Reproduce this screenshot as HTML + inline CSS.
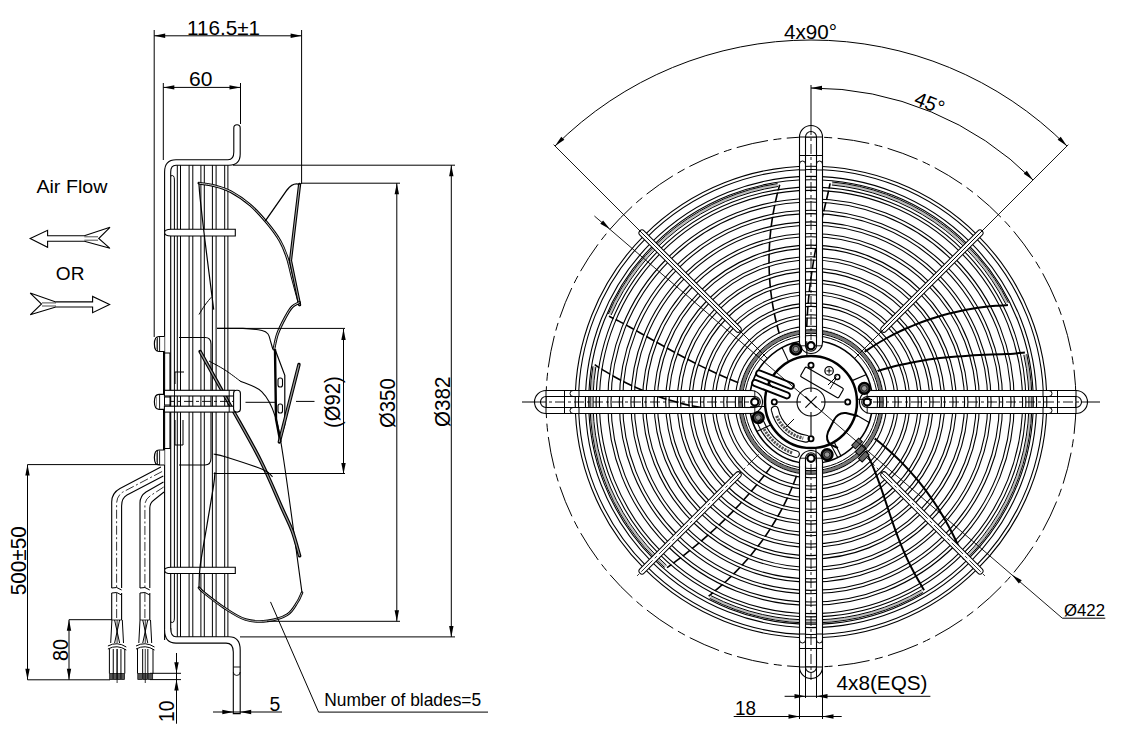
<!DOCTYPE html>
<html><head><meta charset="utf-8"><style>
html,body{margin:0;padding:0;background:#fff;}
svg{display:block;}
text{font-family:"Liberation Sans", sans-serif;fill:#000;}
</style></head><body>
<svg width="1124" height="733" viewBox="0 0 1124 733">
<rect width="1124" height="733" fill="#fff"/>
<circle cx="811" cy="402" r="265" fill="none" stroke="#000" stroke-width="1" stroke-dasharray="32 5.5 8 5.5"/>
<path d="M608.95,316.23 C610.61,317.05 615.63,319.45 618.93,321.15 C622.23,322.85 625.49,324.66 628.75,326.46 C632.01,328.25 635.26,330.1 638.51,331.93 C641.76,333.77 645,335.63 648.25,337.48 C651.5,339.33 654.75,341.19 658.01,343.03 C661.27,344.87 664.53,346.71 667.8,348.53 C671.07,350.35 674.35,352.16 677.65,353.94 C680.94,355.72 684.24,357.49 687.56,359.22 C690.88,360.96 694.2,362.67 697.55,364.35 C700.89,366.02 704.25,367.67 707.63,369.27 C711,370.88 714.39,372.45 717.8,373.98 C721.21,375.51 724.63,377 728.07,378.44 C731.51,379.88 734.96,381.28 738.43,382.63 C741.91,383.97 747.16,385.87 748.9,386.52" fill="none" stroke="#000" stroke-width="1.6"/>
<path d="M779.69,184.74 C779.19,186.7 777.58,192.55 776.66,196.46 C775.73,200.36 774.89,204.28 774.13,208.19 C773.37,212.1 772.7,216.02 772.11,219.93 C771.52,223.84 771.02,227.75 770.6,231.65 C770.18,235.56 769.84,239.46 769.59,243.35 C769.34,247.24 769.17,251.13 769.09,255 C769,258.87 769,262.74 769.08,266.59 C769.17,270.44 769.33,274.28 769.58,278.1 C769.82,281.92 770.15,285.73 770.56,289.51 C770.98,293.3 771.47,297.07 772.04,300.81 C772.61,304.56 773.27,308.28 774,311.98 C774.74,315.69 775.55,319.36 776.44,323.01 C777.34,326.66 778.31,330.29 779.36,333.88 C780.41,337.48 782.18,342.79 782.74,344.58" fill="none" stroke="#000" stroke-width="1.6"/>
<path d="M830.13,183.34 C829.74,185.16 828.61,190.64 827.79,194.28 C826.97,197.93 826.06,201.58 825.2,205.23 C824.35,208.88 823.48,212.53 822.63,216.19 C821.79,219.84 820.96,223.5 820.16,227.17 C819.36,230.83 818.57,234.5 817.82,238.18 C817.07,241.85 816.34,245.53 815.65,249.21 C814.96,252.9 814.3,256.58 813.68,260.28 C813.06,263.97 812.47,267.66 811.92,271.36 C811.37,275.06 810.85,278.76 810.38,282.47 C809.91,286.17 809.48,289.88 809.09,293.59 C808.7,297.3 808.35,301.01 808.05,304.72 C807.74,308.44 807.48,312.15 807.27,315.87 C807.06,319.58 806.88,323.3 806.76,327.01 C806.64,330.73 806.57,336.3 806.54,338.16" fill="none" stroke="#000" stroke-width="1.6"/>
<path d="M708.63,596.17 C710.18,594.88 714.92,591.09 717.97,588.47 C721.02,585.86 724,583.19 726.91,580.47 C729.82,577.75 732.67,574.98 735.44,572.16 C738.22,569.34 740.93,566.47 743.56,563.56 C746.19,560.65 748.76,557.69 751.25,554.69 C753.74,551.69 756.16,548.64 758.5,545.56 C760.85,542.48 763.12,539.35 765.32,536.19 C767.52,533.03 769.64,529.82 771.68,526.59 C773.73,523.35 775.7,520.08 777.59,516.77 C779.49,513.47 781.3,510.13 783.04,506.76 C784.78,503.39 786.44,499.99 788.02,496.57 C789.6,493.14 791.11,489.69 792.53,486.21 C793.95,482.73 795.3,479.23 796.56,475.71 C797.82,472.18 799.52,466.84 800.11,465.07" fill="none" stroke="#000" stroke-width="1.6"/>
<path d="M667,567.66 C668.54,566.54 673.2,563.23 676.25,560.97 C679.31,558.7 682.33,556.41 685.32,554.07 C688.31,551.74 691.27,549.38 694.2,546.98 C697.12,544.58 700.01,542.15 702.87,539.69 C705.73,537.23 708.56,534.73 711.35,532.21 C714.14,529.68 716.9,527.12 719.62,524.53 C722.34,521.95 725.03,519.33 727.68,516.68 C730.33,514.03 732.95,511.35 735.53,508.64 C738.12,505.93 740.66,503.19 743.17,500.43 C745.68,497.66 748.16,494.87 750.59,492.04 C753.03,489.22 755.43,486.37 757.79,483.49 C760.15,480.61 762.48,477.7 764.77,474.77 C767.06,471.84 769.31,468.88 771.52,465.89 C773.73,462.91 776.95,458.36 778.04,456.86" fill="none" stroke="#000" stroke-width="1.6"/>
<path d="M594.7,364.64 C596.4,365.72 601.47,369.06 604.9,371.15 C608.33,373.24 611.8,375.25 615.28,377.18 C618.77,379.11 622.28,380.96 625.82,382.72 C629.36,384.49 632.92,386.18 636.51,387.79 C640.09,389.39 643.7,390.92 647.32,392.36 C650.94,393.8 654.59,395.16 658.24,396.44 C661.9,397.71 665.58,398.91 669.26,400.02 C672.95,401.13 676.65,402.16 680.36,403.11 C684.07,404.05 687.79,404.92 691.52,405.7 C695.25,406.47 698.99,407.17 702.73,407.78 C706.47,408.4 710.21,408.92 713.96,409.37 C717.7,409.82 721.45,410.18 725.2,410.46 C728.95,410.73 732.7,410.93 736.44,411.04 C740.18,411.15 745.79,411.11 747.65,411.13" fill="none" stroke="#000" stroke-width="1.6"/>
<circle cx="811" cy="402" r="234.15" fill="none" stroke="#fff" stroke-width="2.2"/>
<circle cx="811" cy="402" r="235.8" fill="none" stroke="#000" stroke-width="1.1"/>
<circle cx="811" cy="402" r="232.5" fill="none" stroke="#000" stroke-width="1.1"/>
<circle cx="811" cy="402" r="223.95" fill="none" stroke="#fff" stroke-width="2.2"/>
<circle cx="811" cy="402" r="225.6" fill="none" stroke="#000" stroke-width="1.1"/>
<circle cx="811" cy="402" r="222.3" fill="none" stroke="#000" stroke-width="1.1"/>
<circle cx="811" cy="402" r="213.25" fill="none" stroke="#fff" stroke-width="2.2"/>
<circle cx="811" cy="402" r="214.9" fill="none" stroke="#000" stroke-width="1.1"/>
<circle cx="811" cy="402" r="211.6" fill="none" stroke="#000" stroke-width="1.1"/>
<circle cx="811" cy="402" r="201.65" fill="none" stroke="#fff" stroke-width="2.2"/>
<circle cx="811" cy="402" r="203.3" fill="none" stroke="#000" stroke-width="1.1"/>
<circle cx="811" cy="402" r="200" fill="none" stroke="#000" stroke-width="1.1"/>
<circle cx="811" cy="402" r="190.05" fill="none" stroke="#fff" stroke-width="2.2"/>
<circle cx="811" cy="402" r="191.7" fill="none" stroke="#000" stroke-width="1.1"/>
<circle cx="811" cy="402" r="188.4" fill="none" stroke="#000" stroke-width="1.1"/>
<circle cx="811" cy="402" r="178.45" fill="none" stroke="#fff" stroke-width="2.2"/>
<circle cx="811" cy="402" r="180.1" fill="none" stroke="#000" stroke-width="1.1"/>
<circle cx="811" cy="402" r="176.8" fill="none" stroke="#000" stroke-width="1.1"/>
<circle cx="811" cy="402" r="166.85" fill="none" stroke="#fff" stroke-width="2.2"/>
<circle cx="811" cy="402" r="168.5" fill="none" stroke="#000" stroke-width="1.1"/>
<circle cx="811" cy="402" r="165.2" fill="none" stroke="#000" stroke-width="1.1"/>
<circle cx="811" cy="402" r="155.25" fill="none" stroke="#fff" stroke-width="2.2"/>
<circle cx="811" cy="402" r="156.9" fill="none" stroke="#000" stroke-width="1.1"/>
<circle cx="811" cy="402" r="153.6" fill="none" stroke="#000" stroke-width="1.1"/>
<circle cx="811" cy="402" r="143.65" fill="none" stroke="#fff" stroke-width="2.2"/>
<circle cx="811" cy="402" r="145.3" fill="none" stroke="#000" stroke-width="1.1"/>
<circle cx="811" cy="402" r="142" fill="none" stroke="#000" stroke-width="1.1"/>
<circle cx="811" cy="402" r="132.05" fill="none" stroke="#fff" stroke-width="2.2"/>
<circle cx="811" cy="402" r="133.7" fill="none" stroke="#000" stroke-width="1.1"/>
<circle cx="811" cy="402" r="130.4" fill="none" stroke="#000" stroke-width="1.1"/>
<circle cx="811" cy="402" r="120.45" fill="none" stroke="#fff" stroke-width="2.2"/>
<circle cx="811" cy="402" r="122.1" fill="none" stroke="#000" stroke-width="1.1"/>
<circle cx="811" cy="402" r="118.8" fill="none" stroke="#000" stroke-width="1.1"/>
<circle cx="811" cy="402" r="108.85" fill="none" stroke="#fff" stroke-width="2.2"/>
<circle cx="811" cy="402" r="110.5" fill="none" stroke="#000" stroke-width="1.1"/>
<circle cx="811" cy="402" r="107.2" fill="none" stroke="#000" stroke-width="1.1"/>
<circle cx="811" cy="402" r="97.25" fill="none" stroke="#fff" stroke-width="2.2"/>
<circle cx="811" cy="402" r="98.9" fill="none" stroke="#000" stroke-width="1.1"/>
<circle cx="811" cy="402" r="95.6" fill="none" stroke="#000" stroke-width="1.1"/>
<circle cx="811" cy="402" r="85.65" fill="none" stroke="#fff" stroke-width="2.2"/>
<circle cx="811" cy="402" r="87.3" fill="none" stroke="#000" stroke-width="1.1"/>
<circle cx="811" cy="402" r="84" fill="none" stroke="#000" stroke-width="1.1"/>
<circle cx="811" cy="402" r="74.05" fill="none" stroke="#fff" stroke-width="2.2"/>
<circle cx="811" cy="402" r="75.7" fill="none" stroke="#000" stroke-width="1.1"/>
<circle cx="811" cy="402" r="72.4" fill="none" stroke="#000" stroke-width="1.1"/>
<path d="M1007.95,305.09 C1005.94,305.21 999.87,305.5 995.87,305.82 C991.87,306.15 987.88,306.55 983.93,307.04 C979.98,307.53 976.04,308.1 972.14,308.75 C968.24,309.4 964.37,310.13 960.52,310.94 C956.68,311.74 952.87,312.63 949.09,313.59 C945.31,314.55 941.56,315.6 937.85,316.71 C934.14,317.83 930.47,319.02 926.83,320.29 C923.19,321.56 919.59,322.9 916.04,324.32 C912.48,325.73 908.96,327.22 905.49,328.78 C902.01,330.34 898.58,331.98 895.2,333.68 C891.81,335.38 888.47,337.16 885.18,339 C881.88,340.84 878.64,342.75 875.44,344.73 C872.25,346.7 869.1,348.75 866.01,350.86 C862.91,352.97 858.4,356.29 856.88,357.38" fill="none" stroke="#000" stroke-width="2"/>
<path d="M1024.87,352.62 C1023.01,352.79 1017.45,353.38 1013.7,353.63 C1009.96,353.89 1006.17,353.99 1002.4,354.15 C998.62,354.31 994.83,354.43 991.04,354.58 C987.25,354.74 983.45,354.88 979.66,355.07 C975.87,355.25 972.08,355.44 968.29,355.68 C964.5,355.92 960.71,356.18 956.93,356.49 C953.14,356.8 949.37,357.14 945.6,357.54 C941.83,357.93 938.07,358.37 934.32,358.86 C930.57,359.35 926.82,359.89 923.1,360.49 C919.37,361.09 915.65,361.74 911.96,362.45 C908.26,363.16 904.58,363.92 900.91,364.75 C897.25,365.58 893.6,366.47 889.98,367.43 C886.36,368.39 882.75,369.4 879.18,370.49 C875.6,371.57 870.3,373.37 868.52,373.94" fill="none" stroke="#000" stroke-width="2"/>
<path d="M964.03,559.36 C963.26,557.52 961.02,551.93 959.42,548.29 C957.81,544.64 956.14,541.04 954.41,537.48 C952.68,533.93 950.88,530.42 949.02,526.96 C947.15,523.5 945.23,520.09 943.24,516.73 C941.26,513.37 939.21,510.05 937.1,506.8 C935,503.54 932.83,500.34 930.6,497.19 C928.38,494.04 926.1,490.94 923.76,487.9 C921.42,484.86 919.03,481.87 916.58,478.95 C914.13,476.02 911.63,473.15 909.07,470.34 C906.52,467.53 903.91,464.78 901.25,462.09 C898.6,459.4 895.89,456.77 893.13,454.21 C890.38,451.64 887.57,449.14 884.72,446.7 C881.87,444.26 878.98,441.88 876.04,439.57 C873.1,437.26 868.58,433.96 867.08,432.83" fill="none" stroke="#000" stroke-width="2"/>
<path d="M924.05,590.15 C923.11,588.55 920.25,583.8 918.42,580.58 C916.58,577.36 914.79,574.12 913.06,570.83 C911.34,567.55 909.67,564.23 908.07,560.87 C906.47,557.51 904.93,554.11 903.44,550.67 C901.96,547.24 900.54,543.76 899.16,540.25 C897.78,536.74 896.46,533.19 895.16,529.61 C893.86,526.03 892.61,522.41 891.36,518.77 C890.11,515.13 888.9,511.46 887.67,507.78 C886.44,504.09 885.23,500.38 883.98,496.67 C882.72,492.96 881.47,489.23 880.15,485.52 C878.83,481.8 877.49,478.08 876.05,474.39 C874.62,470.7 873.14,467.01 871.54,463.38 C869.94,459.76 868.28,456.15 866.48,452.63 C864.68,449.11 861.69,444 860.74,442.28" fill="none" stroke="#000" stroke-width="2"/>
<path d="M609.71,314.47 A219.5,219.5 0 0 1 777.8,185.03" fill="none" stroke="#bbb" stroke-width="2"/>
<path d="M608.33,313.88 A221,221 0 0 1 777.57,183.54" fill="none" stroke="#000" stroke-width="1"/>
<path d="M611.08,315.07 A218,218 0 0 1 778.03,186.51" fill="none" stroke="#000" stroke-width="1"/>
<path d="M832.04,183.51 A219.5,219.5 0 0 1 1007.1,303.37" fill="none" stroke="#bbb" stroke-width="2"/>
<path d="M832.18,182.02 A221,221 0 0 1 1008.44,302.7" fill="none" stroke="#000" stroke-width="1"/>
<path d="M831.89,185 A218,218 0 0 1 1005.75,304.05" fill="none" stroke="#000" stroke-width="1"/>
<path d="M1025.3,354.49 A219.5,219.5 0 0 1 965.4,558.02" fill="none" stroke="#bbb" stroke-width="2"/>
<path d="M1026.76,354.17 A221,221 0 0 1 966.45,559.09" fill="none" stroke="#000" stroke-width="1"/>
<path d="M1023.83,354.82 A218,218 0 0 1 964.34,556.95" fill="none" stroke="#000" stroke-width="1"/>
<path d="M922.4,591.13 A219.5,219.5 0 0 1 710.33,597.05" fill="none" stroke="#bbb" stroke-width="2"/>
<path d="M923.17,592.42 A221,221 0 0 1 709.64,598.38" fill="none" stroke="#000" stroke-width="1"/>
<path d="M921.64,589.84 A218,218 0 0 1 711.01,595.72" fill="none" stroke="#000" stroke-width="1"/>
<path d="M665.55,566.4 A219.5,219.5 0 0 1 594.39,366.53" fill="none" stroke="#bbb" stroke-width="2"/>
<path d="M664.56,567.52 A221,221 0 0 1 592.9,366.29" fill="none" stroke="#000" stroke-width="1"/>
<path d="M666.55,565.27 A218,218 0 0 1 595.87,366.77" fill="none" stroke="#000" stroke-width="1"/>
<line x1="883.83" y1="474.83" x2="980" y2="571" stroke="#000" stroke-width="7" stroke-linecap="round"/>
<line x1="883.83" y1="474.83" x2="980" y2="571" stroke="#fff" stroke-width="5" stroke-linecap="round"/>
<line x1="863.33" y1="454.33" x2="985.66" y2="576.66" stroke="#000" stroke-width="0.8" stroke-dasharray="16 3 3 3"/>
<line x1="738.17" y1="474.83" x2="642" y2="571" stroke="#000" stroke-width="7" stroke-linecap="round"/>
<line x1="738.17" y1="474.83" x2="642" y2="571" stroke="#fff" stroke-width="5" stroke-linecap="round"/>
<line x1="758.67" y1="454.33" x2="636.34" y2="576.66" stroke="#000" stroke-width="0.8" stroke-dasharray="16 3 3 3"/>
<line x1="738.17" y1="329.17" x2="642" y2="233" stroke="#000" stroke-width="7" stroke-linecap="round"/>
<line x1="738.17" y1="329.17" x2="642" y2="233" stroke="#fff" stroke-width="5" stroke-linecap="round"/>
<line x1="742.41" y1="333.41" x2="636.34" y2="227.34" stroke="#000" stroke-width="0.8" stroke-dasharray="16 3 3 3"/>
<line x1="883.83" y1="329.17" x2="980" y2="233" stroke="#000" stroke-width="7" stroke-linecap="round"/>
<line x1="883.83" y1="329.17" x2="980" y2="233" stroke="#fff" stroke-width="5" stroke-linecap="round"/>
<line x1="879.59" y1="333.41" x2="985.66" y2="227.34" stroke="#000" stroke-width="0.8" stroke-dasharray="16 3 3 3"/>
<circle cx="811" cy="402" r="73.5" fill="#fff" stroke="none" stroke-width="1"/>
<circle cx="811" cy="402" r="70.5" fill="none" stroke="#777" stroke-width="3"/>
<circle cx="811" cy="402" r="72.3" fill="none" stroke="#000" stroke-width="1"/>
<circle cx="811" cy="402" r="68.7" fill="none" stroke="#000" stroke-width="1"/>
<circle cx="811" cy="402" r="66.5" fill="none" stroke="#000" stroke-width="1"/>
<circle cx="811" cy="402" r="61.5" fill="none" stroke="#000" stroke-width="1.6"/>
<polygon points="867,407.5 1076,407.5 1076,413.5 867,413.5" fill="#fff" stroke="none" stroke-width="0"/>
<polygon points="867,390.5 1076,390.5 1076,396.5 867,396.5" fill="#fff" stroke="none" stroke-width="0"/>
<line x1="871" y1="413.5" x2="1076" y2="413.5" stroke="#000" stroke-width="1.1"/>
<line x1="871" y1="390.5" x2="1076" y2="390.5" stroke="#000" stroke-width="1.1"/>
<line x1="867.2" y1="407.5" x2="1076" y2="407.5" stroke="#000" stroke-width="1.1"/>
<line x1="867.2" y1="396.5" x2="1076" y2="396.5" stroke="#000" stroke-width="1.1"/>
<path d="M1076,390.5 A11.5,11.5 0 0 1 1076,413.5" fill="#fff" stroke="#000" stroke-width="1.1"/>
<path d="M1076,396.5 A5.5,5.5 0 0 1 1076,407.5" fill="none" stroke="#000" stroke-width="1.1"/>
<line x1="1057.5" y1="390.5" x2="1057.5" y2="413.5" stroke="#000" stroke-width="1"/>
<line x1="1076" y1="390.5" x2="1076" y2="413.5" stroke="#000" stroke-width="1"/>
<line x1="1043" y1="407.5" x2="1043" y2="413.5" stroke="#000" stroke-width="1"/>
<line x1="1043" y1="390.5" x2="1043" y2="396.5" stroke="#000" stroke-width="1"/>
<path d="M1049,407.5 A3,3 0 0 1 1049,413.5" fill="none" stroke="#000" stroke-width="1"/>
<path d="M1049,390.5 A3,3 0 0 1 1049,396.5" fill="none" stroke="#000" stroke-width="1"/>
<path d="M875,390.5 L871,390.5 A11.5,11.5 0 0 0 871,413.5 L875,413.5 Z" fill="#fff" stroke="none"/>
<path d="M871,390.5 A11.5,11.5 0 0 0 871,413.5" fill="none" stroke="#000" stroke-width="1.1"/>
<line x1="871" y1="413.5" x2="877" y2="413.5" stroke="#000" stroke-width="1.1"/>
<line x1="871" y1="390.5" x2="877" y2="390.5" stroke="#000" stroke-width="1.1"/>
<path d="M867.2,396.5 A5.5,5.5 0 0 0 867.2,407.5" fill="none" stroke="#000" stroke-width="1.1"/>
<line x1="867.2" y1="407.5" x2="877" y2="407.5" stroke="#000" stroke-width="1.1"/>
<line x1="867.2" y1="396.5" x2="877" y2="396.5" stroke="#000" stroke-width="1.1"/>
<line x1="867.2" y1="390.5" x2="867.2" y2="413.5" stroke="#000" stroke-width="0.9"/>
<circle cx="867.2" cy="402" r="3.6" fill="#fff" stroke="#000" stroke-width="2.2"/>
<polygon points="805.5,458 805.5,667 799.5,667 799.5,458" fill="#fff" stroke="none" stroke-width="0"/>
<polygon points="822.5,458 822.5,667 816.5,667 816.5,458" fill="#fff" stroke="none" stroke-width="0"/>
<line x1="799.5" y1="462" x2="799.5" y2="667" stroke="#000" stroke-width="1.1"/>
<line x1="822.5" y1="462" x2="822.5" y2="667" stroke="#000" stroke-width="1.1"/>
<line x1="805.5" y1="458.2" x2="805.5" y2="667" stroke="#000" stroke-width="1.1"/>
<line x1="816.5" y1="458.2" x2="816.5" y2="667" stroke="#000" stroke-width="1.1"/>
<path d="M822.5,667 A11.5,11.5 0 0 1 799.5,667" fill="#fff" stroke="#000" stroke-width="1.1"/>
<path d="M816.5,667 A5.5,5.5 0 0 1 805.5,667" fill="none" stroke="#000" stroke-width="1.1"/>
<line x1="822.5" y1="648.5" x2="799.5" y2="648.5" stroke="#000" stroke-width="1"/>
<line x1="822.5" y1="667" x2="799.5" y2="667" stroke="#000" stroke-width="1"/>
<line x1="805.5" y1="634" x2="799.5" y2="634" stroke="#000" stroke-width="1"/>
<line x1="822.5" y1="634" x2="816.5" y2="634" stroke="#000" stroke-width="1"/>
<path d="M805.5,640 A3,3 0 0 1 799.5,640" fill="none" stroke="#000" stroke-width="1"/>
<path d="M822.5,640 A3,3 0 0 1 816.5,640" fill="none" stroke="#000" stroke-width="1"/>
<path d="M822.5,466 L822.5,462 A11.5,11.5 0 0 0 799.5,462 L799.5,466 Z" fill="#fff" stroke="none"/>
<path d="M822.5,462 A11.5,11.5 0 0 0 799.5,462" fill="none" stroke="#000" stroke-width="1.1"/>
<line x1="799.5" y1="462" x2="799.5" y2="468" stroke="#000" stroke-width="1.1"/>
<line x1="822.5" y1="462" x2="822.5" y2="468" stroke="#000" stroke-width="1.1"/>
<path d="M816.5,458.2 A5.5,5.5 0 0 0 805.5,458.2" fill="none" stroke="#000" stroke-width="1.1"/>
<line x1="805.5" y1="458.2" x2="805.5" y2="468" stroke="#000" stroke-width="1.1"/>
<line x1="816.5" y1="458.2" x2="816.5" y2="468" stroke="#000" stroke-width="1.1"/>
<line x1="822.5" y1="458.2" x2="799.5" y2="458.2" stroke="#000" stroke-width="0.9"/>
<circle cx="811" cy="458.2" r="3.6" fill="#fff" stroke="#000" stroke-width="2.2"/>
<polygon points="755,396.5 546,396.5 546,390.5 755,390.5" fill="#fff" stroke="none" stroke-width="0"/>
<polygon points="755,413.5 546,413.5 546,407.5 755,407.5" fill="#fff" stroke="none" stroke-width="0"/>
<line x1="751" y1="390.5" x2="546" y2="390.5" stroke="#000" stroke-width="1.1"/>
<line x1="751" y1="413.5" x2="546" y2="413.5" stroke="#000" stroke-width="1.1"/>
<line x1="754.8" y1="396.5" x2="546" y2="396.5" stroke="#000" stroke-width="1.1"/>
<line x1="754.8" y1="407.5" x2="546" y2="407.5" stroke="#000" stroke-width="1.1"/>
<path d="M546,413.5 A11.5,11.5 0 0 1 546,390.5" fill="#fff" stroke="#000" stroke-width="1.1"/>
<path d="M546,407.5 A5.5,5.5 0 0 1 546,396.5" fill="none" stroke="#000" stroke-width="1.1"/>
<line x1="564.5" y1="413.5" x2="564.5" y2="390.5" stroke="#000" stroke-width="1"/>
<line x1="546" y1="413.5" x2="546" y2="390.5" stroke="#000" stroke-width="1"/>
<line x1="579" y1="396.5" x2="579" y2="390.5" stroke="#000" stroke-width="1"/>
<line x1="579" y1="413.5" x2="579" y2="407.5" stroke="#000" stroke-width="1"/>
<path d="M573,396.5 A3,3 0 0 1 573,390.5" fill="none" stroke="#000" stroke-width="1"/>
<path d="M573,413.5 A3,3 0 0 1 573,407.5" fill="none" stroke="#000" stroke-width="1"/>
<path d="M747,413.5 L751,413.5 A11.5,11.5 0 0 0 751,390.5 L747,390.5 Z" fill="#fff" stroke="none"/>
<path d="M751,413.5 A11.5,11.5 0 0 0 751,390.5" fill="none" stroke="#000" stroke-width="1.1"/>
<line x1="751" y1="390.5" x2="745" y2="390.5" stroke="#000" stroke-width="1.1"/>
<line x1="751" y1="413.5" x2="745" y2="413.5" stroke="#000" stroke-width="1.1"/>
<path d="M754.8,407.5 A5.5,5.5 0 0 0 754.8,396.5" fill="none" stroke="#000" stroke-width="1.1"/>
<line x1="754.8" y1="396.5" x2="745" y2="396.5" stroke="#000" stroke-width="1.1"/>
<line x1="754.8" y1="407.5" x2="745" y2="407.5" stroke="#000" stroke-width="1.1"/>
<line x1="754.8" y1="413.5" x2="754.8" y2="390.5" stroke="#000" stroke-width="0.9"/>
<circle cx="754.8" cy="402" r="3.6" fill="#fff" stroke="#000" stroke-width="2.2"/>
<polygon points="816.5,346 816.5,137 822.5,137 822.5,346" fill="#fff" stroke="none" stroke-width="0"/>
<polygon points="799.5,346 799.5,137 805.5,137 805.5,346" fill="#fff" stroke="none" stroke-width="0"/>
<line x1="822.5" y1="342" x2="822.5" y2="137" stroke="#000" stroke-width="1.1"/>
<line x1="799.5" y1="342" x2="799.5" y2="137" stroke="#000" stroke-width="1.1"/>
<line x1="816.5" y1="345.8" x2="816.5" y2="137" stroke="#000" stroke-width="1.1"/>
<line x1="805.5" y1="345.8" x2="805.5" y2="137" stroke="#000" stroke-width="1.1"/>
<path d="M799.5,137 A11.5,11.5 0 0 1 822.5,137" fill="#fff" stroke="#000" stroke-width="1.1"/>
<path d="M805.5,137 A5.5,5.5 0 0 1 816.5,137" fill="none" stroke="#000" stroke-width="1.1"/>
<line x1="799.5" y1="155.5" x2="822.5" y2="155.5" stroke="#000" stroke-width="1"/>
<line x1="799.5" y1="137" x2="822.5" y2="137" stroke="#000" stroke-width="1"/>
<line x1="816.5" y1="170" x2="822.5" y2="170" stroke="#000" stroke-width="1"/>
<line x1="799.5" y1="170" x2="805.5" y2="170" stroke="#000" stroke-width="1"/>
<path d="M816.5,164 A3,3 0 0 1 822.5,164" fill="none" stroke="#000" stroke-width="1"/>
<path d="M799.5,164 A3,3 0 0 1 805.5,164" fill="none" stroke="#000" stroke-width="1"/>
<path d="M799.5,338 L799.5,342 A11.5,11.5 0 0 0 822.5,342 L822.5,338 Z" fill="#fff" stroke="none"/>
<path d="M799.5,342 A11.5,11.5 0 0 0 822.5,342" fill="none" stroke="#000" stroke-width="1.1"/>
<line x1="822.5" y1="342" x2="822.5" y2="336" stroke="#000" stroke-width="1.1"/>
<line x1="799.5" y1="342" x2="799.5" y2="336" stroke="#000" stroke-width="1.1"/>
<path d="M805.5,345.8 A5.5,5.5 0 0 0 816.5,345.8" fill="none" stroke="#000" stroke-width="1.1"/>
<line x1="816.5" y1="345.8" x2="816.5" y2="336" stroke="#000" stroke-width="1.1"/>
<line x1="805.5" y1="345.8" x2="805.5" y2="336" stroke="#000" stroke-width="1.1"/>
<line x1="799.5" y1="345.8" x2="822.5" y2="345.8" stroke="#000" stroke-width="0.9"/>
<circle cx="811" cy="345.8" r="3.6" fill="#fff" stroke="#000" stroke-width="2.2"/>
<circle cx="811" cy="402" r="46" fill="#fff" stroke="#000" stroke-width="2.5"/>
<circle cx="811" cy="402" r="14" fill="none" stroke="#000" stroke-width="1.1"/>
<circle cx="847.7" cy="402" r="2.6" fill="#fff" stroke="#000" stroke-width="1.8"/>
<line x1="821" y1="402" x2="844.5" y2="402" stroke="#000" stroke-width="1.1"/>
<circle cx="811" cy="438.7" r="2.6" fill="#fff" stroke="#000" stroke-width="1.8"/>
<line x1="811" y1="412" x2="811" y2="435.5" stroke="#000" stroke-width="1.1"/>
<circle cx="774.3" cy="402" r="2.6" fill="#fff" stroke="#000" stroke-width="1.8"/>
<line x1="801" y1="402" x2="777.5" y2="402" stroke="#000" stroke-width="1.1"/>
<circle cx="811" cy="365.3" r="2.6" fill="#fff" stroke="#000" stroke-width="1.8"/>
<line x1="811" y1="392" x2="811" y2="368.5" stroke="#000" stroke-width="1.1"/>
<circle cx="795.84" cy="349.13" r="5.4" fill="#555" stroke="#000" stroke-width="2.4"/>
<circle cx="795.84" cy="349.13" r="2.8" fill="#999" stroke="#222" stroke-width="1"/>
<line x1="788.21" y1="360.89" x2="781.89" y2="347.26" stroke="#000" stroke-width="1.1"/>
<line x1="806.9" y1="355.18" x2="806.74" y2="341.15" stroke="#000" stroke-width="1.1"/>
<circle cx="864.27" cy="388.32" r="5.4" fill="#555" stroke="#000" stroke-width="2.4"/>
<circle cx="864.27" cy="388.32" r="2.8" fill="#999" stroke="#222" stroke-width="1"/>
<line x1="852.73" y1="380.37" x2="866.53" y2="374.43" stroke="#000" stroke-width="1.1"/>
<line x1="857.92" y1="399.21" x2="871.95" y2="399.45" stroke="#000" stroke-width="1.1"/>
<circle cx="758.26" cy="417.62" r="5.4" fill="#555" stroke="#000" stroke-width="2.4"/>
<circle cx="758.26" cy="417.62" r="2.8" fill="#999" stroke="#222" stroke-width="1"/>
<line x1="770.09" y1="425.14" x2="756.51" y2="431.58" stroke="#000" stroke-width="1.1"/>
<line x1="764.22" y1="406.5" x2="750.19" y2="406.79" stroke="#000" stroke-width="1.1"/>
<circle cx="827.08" cy="454.6" r="5.4" fill="#555" stroke="#000" stroke-width="2.4"/>
<circle cx="827.08" cy="454.6" r="2.8" fill="#999" stroke="#222" stroke-width="1"/>
<line x1="834.5" y1="442.7" x2="841.06" y2="456.23" stroke="#000" stroke-width="1.1"/>
<line x1="815.91" y1="448.74" x2="816.32" y2="462.77" stroke="#000" stroke-width="1.1"/>
<rect x="-22" y="-5.5" width="44" height="11" rx="1.5" fill="none" stroke="#000" stroke-width="1.2" transform="translate(822 382.5) rotate(30)"/>
<circle cx="829.1" cy="370.9" r="4.2" fill="none" stroke="#000" stroke-width="1.3"/>
<line x1="826.5" y1="370.9" x2="831.7" y2="370.9" stroke="#000" stroke-width="1"/>
<line x1="829.1" y1="368.3" x2="829.1" y2="373.5" stroke="#000" stroke-width="1"/>
<circle cx="837.3" cy="377" r="2.5" fill="none" stroke="#000" stroke-width="1.4"/>
<line x1="836" y1="379" x2="830" y2="389" stroke="#000" stroke-width="0.9"/>
<path d="M858,416 L846,413 Q838,412 834,420 L828,432 Q825,440 831,445 L838,448" fill="none" stroke="#000" stroke-width="2"/>
<line x1="858" y1="416" x2="870" y2="423" stroke="#000" stroke-width="1.1"/>
<line x1="831" y1="445" x2="838" y2="458" stroke="#000" stroke-width="1.1"/>
<rect x="-20" y="-3" width="40" height="6" rx="3" fill="#fff" stroke="#000" stroke-width="1.9" transform="translate(775 379.6) rotate(21.5)"/>
<rect x="-20" y="-3" width="40" height="6" rx="3" fill="#fff" stroke="#000" stroke-width="1.9" transform="translate(771 389.2) rotate(21.5)"/>
<line x1="767" y1="380" x2="773" y2="388" stroke="#000" stroke-width="1"/>
<path d="M771.39,410.42 A40.5,40.5 0 0 0 805.36,442.11 A3.5,3.5 0 0 0 806.34,435.17 A33.5,33.5 0 0 1 778.23,408.97 A3.5,3.5 0 0 0 771.39,410.42 Z" fill="none" stroke="#000" stroke-width="1.1"/>
<path d="M776.69,415.86 A37,37 0 0 0 803.31,438.19" fill="none" stroke="#555" stroke-width="3.2" stroke-dasharray="2.2 1"/>
<path d="M758.07,424.47 A57.5,57.5 0 0 0 795.15,457.27 A3.25,3.25 0 0 0 796.94,451.02 A51,51 0 0 1 764.05,421.93 A3.25,3.25 0 0 0 758.07,424.47 Z" fill="none" stroke="#000" stroke-width="1.1"/>
<path d="M764.06,429.1 A54.2,54.2 0 0 0 792.46,452.93" fill="none" stroke="#555" stroke-width="3" stroke-dasharray="2.2 1"/>
<rect x="-5" y="-2.6" width="10" height="5.2" fill="#666" stroke="#000" stroke-width="1" transform="translate(857.07 443.49) rotate(-46)"/>
<rect x="-5" y="-2.6" width="10" height="5.2" fill="#666" stroke="#000" stroke-width="1" transform="translate(860.63 449.93) rotate(-46)"/>
<rect x="-5" y="-2.6" width="10" height="5.2" fill="#666" stroke="#000" stroke-width="1" transform="translate(863.79 456.67) rotate(-46)"/>
<line x1="805.34" y1="396.34" x2="816.66" y2="407.66" stroke="#000" stroke-width="1.1"/>
<line x1="805.34" y1="407.66" x2="816.66" y2="396.34" stroke="#000" stroke-width="1.1"/>
<line x1="827.97" y1="385.03" x2="836.46" y2="376.54" stroke="#000" stroke-width="1"/>
<line x1="794.03" y1="418.97" x2="785.54" y2="427.46" stroke="#000" stroke-width="1"/>
<line x1="522" y1="402" x2="536" y2="402" stroke="#000" stroke-width="1"/>
<line x1="1086" y1="402" x2="1100" y2="402" stroke="#000" stroke-width="1"/>
<line x1="536" y1="402" x2="749" y2="402" stroke="#000" stroke-width="0.9" stroke-dasharray="10 3 3 3"/>
<line x1="873" y1="402" x2="1086" y2="402" stroke="#000" stroke-width="0.9" stroke-dasharray="10 3 3 3"/>
<line x1="811" y1="85" x2="811" y2="125" stroke="#000" stroke-width="1"/>
<line x1="811" y1="125" x2="811" y2="340" stroke="#000" stroke-width="0.9" stroke-dasharray="10 3 3 3"/>
<line x1="811" y1="464" x2="811" y2="680" stroke="#000" stroke-width="0.9" stroke-dasharray="10 3 3 3"/>
<line x1="767.16" y1="358.16" x2="553.61" y2="144.61" stroke="#000" stroke-width="0.9"/>
<line x1="854.84" y1="358.16" x2="1068.39" y2="144.61" stroke="#000" stroke-width="0.9"/>
<line x1="594.4" y1="216" x2="1062.3" y2="618.2" stroke="#000" stroke-width="0.9"/>
<line x1="1062.3" y1="618.2" x2="1105.3" y2="618.2" stroke="#000" stroke-width="1"/>
<polygon points="610.04,229.26 600.26,223.76 603.13,220.42" fill="#000"/>
<polygon points="1011.96,574.74 1021.74,580.24 1018.87,583.58" fill="#000"/>
<path d="M555.03,146.03 A362,362 0 0 1 1066.97,146.03" fill="none" stroke="#000" stroke-width="1"/>
<polygon points="555.03,146.03 561.25,136.69 564.36,139.8" fill="#000"/>
<polygon points="1066.97,146.03 1057.64,139.8 1060.75,136.69" fill="#000"/>
<path d="M811,88 A314,314 0 0 1 1033.03,179.97" fill="none" stroke="#000" stroke-width="1"/>
<polygon points="811,88 822,85.8 822,90.2" fill="#000"/>
<polygon points="1033.03,179.97 1023.7,173.75 1026.81,170.63" fill="#000"/>
<text x="784" y="39" font-size="21" text-anchor="start" textLength="53" lengthAdjust="spacingAndGlyphs">4x90°</text>
<text x="913" y="104" font-size="20" text-anchor="start" transform="rotate(21.6 913 104)">45°</text>
<text x="1064" y="615.5" font-size="17" text-anchor="start" textLength="41" lengthAdjust="spacingAndGlyphs">Ø422</text>
<line x1="799.5" y1="667" x2="799.5" y2="719" stroke="#000" stroke-width="1"/>
<line x1="822.5" y1="667" x2="822.5" y2="719" stroke="#000" stroke-width="1"/>
<line x1="805.5" y1="667" x2="805.5" y2="698" stroke="#000" stroke-width="1"/>
<line x1="816.5" y1="667" x2="816.5" y2="698" stroke="#000" stroke-width="1"/>
<line x1="784.6" y1="696.3" x2="930.4" y2="696.3" stroke="#000" stroke-width="1"/>
<polygon points="805.5,696.3 794.5,698.5 794.5,694.1" fill="#000"/>
<polygon points="816.5,696.3 827.5,694.1 827.5,698.5" fill="#000"/>
<line x1="733.7" y1="716.5" x2="841.7" y2="716.5" stroke="#000" stroke-width="1"/>
<polygon points="799.5,716.5 788.5,718.7 788.5,714.3" fill="#000"/>
<polygon points="822.5,716.5 833.5,714.3 833.5,718.7" fill="#000"/>
<text x="836.5" y="690" font-size="20" text-anchor="start" textLength="91" lengthAdjust="spacingAndGlyphs">4x8(EQS)</text>
<text x="735" y="714.5" font-size="20" text-anchor="start" textLength="21" lengthAdjust="spacingAndGlyphs">18</text>
<line x1="154.2" y1="30" x2="154.2" y2="337" stroke="#000" stroke-width="1"/>
<line x1="301.6" y1="30" x2="301.6" y2="184" stroke="#000" stroke-width="1"/>
<line x1="154.2" y1="35.8" x2="301.6" y2="35.8" stroke="#000" stroke-width="1"/>
<polygon points="154.2,35.8 165.2,33.6 165.2,38" fill="#000"/>
<polygon points="301.6,35.8 290.6,38 290.6,33.6" fill="#000"/>
<text x="187" y="35" font-size="21" text-anchor="start" textLength="73" lengthAdjust="spacingAndGlyphs">116.5±1</text>
<line x1="163.3" y1="83" x2="163.3" y2="160" stroke="#000" stroke-width="1"/>
<line x1="240.5" y1="83" x2="240.5" y2="124" stroke="#000" stroke-width="1"/>
<line x1="163.3" y1="87.4" x2="240.5" y2="87.4" stroke="#000" stroke-width="1"/>
<polygon points="163.3,87.4 174.3,85.2 174.3,89.6" fill="#000"/>
<polygon points="240.5,87.4 229.5,89.6 229.5,85.2" fill="#000"/>
<text x="189" y="85.6" font-size="20" text-anchor="start" textLength="23.4" lengthAdjust="spacingAndGlyphs">60</text>
<path d="M164.6,640 L164.6,172 Q164.6,159.8 176,159.8 L228,159.8 Q233.8,159.8 233.8,152 L233.8,128 A3.2,3.2 0 0 1 240.2,128 L240.2,154 Q240.2,165.2 229,165.2 L176,165.2 Q170.7,165.2 170.7,172 L170.7,632" fill="#fff" stroke="#000" stroke-width="1.1"/>
<path d="M164.6,630 Q164.6,643.1 176,643.1 L226,643.1 Q233.3,643.1 233.3,652 L233.3,713.6 L240.2,713.6 L240.2,650 Q240.2,636.8 229,636.8 L176,636.8 Q170.7,636.8 170.7,628" fill="#fff" stroke="#000" stroke-width="1.1"/>
<line x1="233.3" y1="667" x2="240.2" y2="667" stroke="#000" stroke-width="0.9"/>
<path d="M233.3,672 A3.4,3.4 0 0 0 240.2,672" fill="none" stroke="#000" stroke-width="0.9"/>
<path d="M170.7,176 Q174.4,174 174.4,180 L174.4,618 Q174.4,624 170.7,622" fill="none" stroke="#000" stroke-width="1"/>
<line x1="177.3" y1="165.2" x2="177.3" y2="636.8" stroke="#000" stroke-width="1"/>
<line x1="180.5" y1="165.2" x2="180.5" y2="636.8" stroke="#000" stroke-width="1"/>
<line x1="189.1" y1="165.2" x2="189.1" y2="636.8" stroke="#000" stroke-width="1"/>
<line x1="192.8" y1="165.2" x2="192.8" y2="636.8" stroke="#000" stroke-width="1"/>
<line x1="200.9" y1="165.2" x2="200.9" y2="636.8" stroke="#000" stroke-width="1"/>
<line x1="204.3" y1="165.2" x2="204.3" y2="636.8" stroke="#000" stroke-width="1"/>
<line x1="212.4" y1="165.2" x2="212.4" y2="636.8" stroke="#000" stroke-width="1"/>
<line x1="216.1" y1="165.2" x2="216.1" y2="636.8" stroke="#000" stroke-width="1"/>
<line x1="224.7" y1="165.2" x2="224.7" y2="636.8" stroke="#000" stroke-width="1"/>
<line x1="227.9" y1="165.2" x2="227.9" y2="636.8" stroke="#000" stroke-width="1"/>
<path d="M171,229.3 L235.3,229.3 L235.3,236 L171,236 Q164.6,236 164.6,232.6 Q164.6,229.3 171,229.3 Z" fill="#fff" stroke="#000" stroke-width="1.1"/>
<path d="M171,567.3 L235.3,567.3 L235.3,573.5 L171,573.5 Q164.6,573.5 164.6,570.4 Q164.6,567.3 171,567.3 Z" fill="#fff" stroke="#000" stroke-width="1.1"/>
<path d="M179,337.5 L205,337.5 Q211,337.5 211,344 L211,458 Q211,465 205,465 L179,465" fill="none" stroke="#000" stroke-width="1.1"/>
<line x1="163.6" y1="350" x2="163.6" y2="460" stroke="#000" stroke-width="1.2"/>
<path d="M164.5,336.5 L159,336.5 Q154.4,336.5 154.4,344 Q154.4,351.5 159,351.5 L164.5,351.5" fill="#fff" stroke="#000" stroke-width="1.2"/>
<line x1="159.6" y1="337" x2="159.6" y2="351" stroke="#000" stroke-width="0.9"/>
<line x1="156.5" y1="339" x2="156.5" y2="349" stroke="#666" stroke-width="0.7"/>
<path d="M164.5,394.3 L159,394.3 Q154.4,394.3 154.4,401.8 Q154.4,409.3 159,409.3 L164.5,409.3" fill="#fff" stroke="#000" stroke-width="1.2"/>
<line x1="159.6" y1="394.8" x2="159.6" y2="408.8" stroke="#000" stroke-width="0.9"/>
<line x1="156.5" y1="396.8" x2="156.5" y2="406.8" stroke="#666" stroke-width="0.7"/>
<path d="M164.5,450 L159,450 Q154.4,450 154.4,457.5 Q154.4,465 159,465 L164.5,465" fill="#fff" stroke="#000" stroke-width="1.2"/>
<line x1="159.6" y1="450.5" x2="159.6" y2="464.5" stroke="#000" stroke-width="0.9"/>
<line x1="156.5" y1="452.5" x2="156.5" y2="462.5" stroke="#666" stroke-width="0.7"/>
<path d="M164.4,353 L170,353 L170,448.5 L164.4,448.5" fill="none" stroke="#000" stroke-width="1.1"/>
<line x1="157.5" y1="337.5" x2="157.5" y2="351" stroke="#000" stroke-width="0.8"/>
<line x1="157.5" y1="451" x2="157.5" y2="465" stroke="#000" stroke-width="0.8"/>
<path d="M175,384 L175,372 L184,372" fill="none" stroke="#000" stroke-width="1"/>
<path d="M175,420 L175,445 L183,445 L183,420" fill="none" stroke="#000" stroke-width="1"/>
<line x1="296" y1="401.4" x2="314.5" y2="401.4" stroke="#000" stroke-width="1"/>
<path d="M198.9,183.2 C201.37,183.6 208.37,184.18 213.7,185.6 C219.03,187.02 224.77,188.42 230.9,191.7 C237.03,194.98 244.37,199.97 250.5,205.3 C256.63,210.63 262.78,217.77 267.7,223.7 C272.62,229.63 276.73,235.18 280,240.9 C283.27,246.62 285.25,251.87 287.3,258 C289.35,264.13 290.25,269.92 292.3,277.7 C294.35,285.48 298.38,300.2 299.6,304.7" fill="none" stroke="#000" stroke-width="2.8" stroke-linecap="round"/>
<path d="M198.9,183.2 C201.37,183.6 208.37,184.18 213.7,185.6 C219.03,187.02 224.77,188.42 230.9,191.7 C237.03,194.98 244.37,199.97 250.5,205.3 C256.63,210.63 262.78,217.77 267.7,223.7 C272.62,229.63 276.73,235.18 280,240.9 C283.27,246.62 285.25,251.87 287.3,258 C289.35,264.13 290.25,269.92 292.3,277.7 C294.35,285.48 298.38,300.2 299.6,304.7" fill="none" stroke="#fff" stroke-width="0.8"/>
<path d="M299.6,184.4 L290.5,260.5 L299.6,304.7" fill="none" stroke="#000" stroke-width="3.2" stroke-linecap="round"/>
<path d="M299.6,184.4 L290.5,260.5 L299.6,304.7" fill="none" stroke="#aaa" stroke-width="1"/>
<path d="M299.6,184.4 Q293,182 287,190 L265.2,221.2" fill="none" stroke="#000" stroke-width="1.3"/>
<path d="M198.9,183.2 C199.12,185.83 199.18,189.38 200.2,199 C201.22,208.62 202.75,222.47 205,240.9 C207.25,259.33 212.25,298.15 213.7,309.6" fill="none" stroke="#000" stroke-width="1.2"/>
<path d="M199,314.5 C200,312.92 202.97,307.87 205,305 C207.03,302.13 210.17,298.58 211.2,297.3" fill="none" stroke="#000" stroke-width="1"/>
<path d="M299.4,302.5 C298.17,303.25 294.4,304.42 292,307 C289.6,309.58 287.42,313.5 285,318 C282.58,322.5 279.35,328.8 277.5,334 C275.65,339.2 274.5,346.67 273.9,349.2" fill="none" stroke="#000" stroke-width="2.8" stroke-linecap="round"/>
<path d="M299.4,302.5 C298.17,303.25 294.4,304.42 292,307 C289.6,309.58 287.42,313.5 285,318 C282.58,322.5 279.35,328.8 277.5,334 C275.65,339.2 274.5,346.67 273.9,349.2" fill="none" stroke="#fff" stroke-width="0.8"/>
<path d="M217,328.4 C221.33,328.4 235.5,328.05 243,328.4 C250.5,328.75 257.83,329.57 262,330.5 C266.17,331.43 266.57,332.17 268,334 C269.43,335.83 269.8,338.97 270.6,341.5 C271.4,344.03 272.43,347.92 272.8,349.2" fill="none" stroke="#000" stroke-width="1.1"/>
<polyline points="275,349.2 276,419 280.4,442" fill="none" stroke="#000" stroke-width="2.4"/>
<polyline points="275,349.2 284.8,375.4 284.8,424.6 279.5,442" fill="none" stroke="#000" stroke-width="1.2"/>
<rect x="278" y="378" width="4.5" height="9" rx="2" fill="#fff" stroke="#000" stroke-width="1.1"/>
<rect x="278" y="404" width="4.5" height="9" rx="2" fill="#fff" stroke="#000" stroke-width="1.1"/>
<path d="M299,364.5 L279.3,442" fill="none" stroke="#000" stroke-width="3.4" stroke-linecap="round"/>
<path d="M299,364.5 L279.3,442" fill="none" stroke="#999" stroke-width="1.2"/>
<path d="M240,380.9 C243.65,382.72 256.07,385.98 261.9,391.8 C267.73,397.62 271.37,404.43 275,415.8 C278.63,427.17 279.2,430.53 283.7,460 C288.2,489.47 298.95,570.5 302,592.6" fill="none" stroke="#000" stroke-width="1.1"/>
<path d="M209,361 C211.67,362.5 219.83,366.68 225,370 C230.17,373.32 237.5,379.08 240,380.9" fill="none" stroke="#000" stroke-width="1"/>
<line x1="245.5" y1="402.3" x2="276" y2="402.3" stroke="#000" stroke-width="1"/>
<path d="M200.2,351.6 C205.17,360.5 219.98,386.93 230,405 C240.02,423.07 251.57,442.67 260.3,460 C269.03,477.33 277.07,497.13 282.4,509 C287.73,520.87 289.43,523.4 292.3,531.2 C295.17,539 298.38,551.7 299.6,555.8" fill="none" stroke="#000" stroke-width="3.5" stroke-linecap="round"/>
<path d="M200.2,351.6 C205.17,360.5 219.98,386.93 230,405 C240.02,423.07 251.57,442.67 260.3,460 C269.03,477.33 277.07,497.13 282.4,509 C287.73,520.87 289.43,523.4 292.3,531.2 C295.17,539 298.38,551.7 299.6,555.8" fill="none" stroke="#999" stroke-width="1.2"/>
<path d="M213.7,454 C215.75,454.5 217.82,454.42 226,457 C234.18,459.58 255.03,466.2 262.8,469.5 C270.57,472.8 270.97,475.58 272.6,476.8" fill="none" stroke="#000" stroke-width="1.1"/>
<line x1="213.7" y1="473.5" x2="345" y2="473.5" stroke="#000" stroke-width="1"/>
<line x1="217" y1="328.4" x2="345" y2="328.4" stroke="#000" stroke-width="1"/>
<path d="M302,592.6 C301.2,594.23 299.65,598.72 297.2,602.4 C294.75,606.08 292.22,611.62 287.3,614.7 C282.38,617.78 274.65,620.08 267.7,620.9 C260.75,621.72 252.97,621.87 245.6,619.6 C238.23,617.33 230.45,611.8 223.5,607.3 C216.55,602.8 207.98,595.87 203.9,592.6 C199.82,589.33 199.82,588.52 199,587.7" fill="none" stroke="#000" stroke-width="2.6" stroke-linecap="round"/>
<path d="M302,592.6 C301.2,594.23 299.65,598.72 297.2,602.4 C294.75,606.08 292.22,611.62 287.3,614.7 C282.38,617.78 274.65,620.08 267.7,620.9 C260.75,621.72 252.97,621.87 245.6,619.6 C238.23,617.33 230.45,611.8 223.5,607.3 C216.55,602.8 207.98,595.87 203.9,592.6 C199.82,589.33 199.82,588.52 199,587.7" fill="none" stroke="#fff" stroke-width="0.7"/>
<path d="M199,587.7 C199.2,584.02 198.87,576.05 200.2,565.6 C201.53,555.15 204.75,538.5 207,525 C209.25,511.5 212.38,493.38 213.7,484.6 C215.02,475.82 214.7,474.35 214.9,472.3" fill="none" stroke="#000" stroke-width="1.2"/>
<rect x="164.4" y="390.3" width="70" height="5.7" fill="#fff" stroke="#000" stroke-width="1.1"/>
<rect x="164.4" y="406.2" width="70" height="5.9" fill="#fff" stroke="#000" stroke-width="1.1"/>
<rect x="233.6" y="390.3" width="6.8" height="21.8" rx="3" fill="#fff" stroke="#000" stroke-width="1.1"/>
<line x1="174.5" y1="390.3" x2="174.5" y2="412.1" stroke="#000" stroke-width="0.9"/>
<line x1="229.2" y1="390.3" x2="229.2" y2="412.1" stroke="#000" stroke-width="0.9"/>
<line x1="166" y1="401.4" x2="233" y2="401.4" stroke="#000" stroke-width="0.9" stroke-dasharray="9 3 3 3"/>
<rect x="164.5" y="397" width="5.5" height="8" fill="#fff" stroke="#000" stroke-width="1"/>
<line x1="233" y1="165.2" x2="455" y2="165.2" stroke="#000" stroke-width="1"/>
<line x1="301.6" y1="183.2" x2="400" y2="183.2" stroke="#000" stroke-width="1"/>
<line x1="267" y1="621.3" x2="400" y2="621.3" stroke="#000" stroke-width="1"/>
<line x1="240" y1="636.9" x2="455" y2="636.9" stroke="#000" stroke-width="1"/>
<line x1="451.3" y1="165.2" x2="451.3" y2="636.9" stroke="#000" stroke-width="1"/>
<polygon points="451.3,165.2 453.5,176.2 449.1,176.2" fill="#000"/>
<polygon points="451.3,636.9 449.1,625.9 453.5,625.9" fill="#000"/>
<line x1="396.8" y1="183.2" x2="396.8" y2="621.3" stroke="#000" stroke-width="1"/>
<polygon points="396.8,183.2 399,194.2 394.6,194.2" fill="#000"/>
<polygon points="396.8,621.3 394.6,610.3 399,610.3" fill="#000"/>
<line x1="343.5" y1="329" x2="343.5" y2="473.9" stroke="#000" stroke-width="1"/>
<polygon points="343.5,329 345.7,340 341.3,340" fill="#000"/>
<polygon points="343.5,473.9 341.3,462.9 345.7,462.9" fill="#000"/>
<text x="339.5" y="428" font-size="21.5" text-anchor="start" transform="rotate(-90 339.5 428)" textLength="51.7" lengthAdjust="spacingAndGlyphs">(Ø92)</text>
<text x="394.5" y="428" font-size="22" text-anchor="start" transform="rotate(-90 394.5 428)" textLength="49.7" lengthAdjust="spacingAndGlyphs">Ø350</text>
<text x="450" y="427" font-size="22" text-anchor="start" transform="rotate(-90 450 427)" textLength="50.5" lengthAdjust="spacingAndGlyphs">Ø382</text>
<polyline points="270.5,601.9 318.6,712.1 488,712.1" fill="none" stroke="#000" stroke-width="1"/>
<text x="324.2" y="705.8" font-size="19" text-anchor="start" textLength="157" lengthAdjust="spacingAndGlyphs">Number of blades=5</text>
<line x1="213" y1="712" x2="282" y2="712" stroke="#000" stroke-width="1"/>
<polygon points="233.3,712 222.3,714.2 222.3,709.8" fill="#000"/>
<polygon points="240.2,712 251.2,709.8 251.2,714.2" fill="#000"/>
<text x="269.5" y="710.5" font-size="20" text-anchor="start" textLength="10.8" lengthAdjust="spacingAndGlyphs">5</text>
<line x1="150" y1="673.3" x2="181" y2="673.3" stroke="#000" stroke-width="1"/>
<line x1="150" y1="679.6" x2="181" y2="679.6" stroke="#000" stroke-width="1"/>
<line x1="176.5" y1="653" x2="176.5" y2="723.7" stroke="#000" stroke-width="1"/>
<polygon points="176.5,673.3 174.3,662.3 178.7,662.3" fill="#000"/>
<polygon points="176.5,679.6 178.7,690.6 174.3,690.6" fill="#000"/>
<text x="174.4" y="722" font-size="21.5" text-anchor="start" transform="rotate(-90 174.4 722)" textLength="21.3" lengthAdjust="spacingAndGlyphs">10</text>
<path d="M160.9,467 L120,488.5 Q111.7,493 111.7,502 L111.7,588" fill="none" stroke="#000" stroke-width="1.1"/>
<path d="M163.3,476 L127,495 Q121.6,498 121.6,506 L121.6,588" fill="none" stroke="#000" stroke-width="1.1"/>
<path d="M162.1,471.5 L123.5,491.7 Q116.6,495.5 116.6,504 L116.6,588" fill="none" stroke="#000" stroke-width="0.8" stroke-dasharray="9 2.5 2 2.5"/>
<path d="M163.5,482 L146,492 Q140,496 140,503 L140,588" fill="none" stroke="#000" stroke-width="1.1"/>
<path d="M164,492 L154,500 Q149.8,503 149.8,508 L149.8,588" fill="none" stroke="#000" stroke-width="1.1"/>
<path d="M163.7,487 L150,496 Q144.9,499.5 144.9,505.5 L144.9,588" fill="none" stroke="#000" stroke-width="0.8" stroke-dasharray="9 2.5 2 2.5"/>
<path d="M111.7,588 Q116.65,586 121.6,590" fill="none" stroke="#000" stroke-width="1"/>
<path d="M111.7,593 Q116.65,591 121.6,595" fill="none" stroke="#000" stroke-width="1"/>
<line x1="111.7" y1="593" x2="111.7" y2="620" stroke="#000" stroke-width="1.1"/>
<line x1="121.6" y1="593" x2="121.6" y2="620" stroke="#000" stroke-width="1.1"/>
<line x1="111.7" y1="620" x2="121.6" y2="620" stroke="#000" stroke-width="0.8"/>
<line x1="116.65" y1="593" x2="116.65" y2="620" stroke="#000" stroke-width="0.8" stroke-dasharray="9 2.5 2 2.5"/>
<path d="M140,588 Q144.9,586 149.8,590" fill="none" stroke="#000" stroke-width="1"/>
<path d="M140,593 Q144.9,591 149.8,595" fill="none" stroke="#000" stroke-width="1"/>
<line x1="140" y1="593" x2="140" y2="620" stroke="#000" stroke-width="1.1"/>
<line x1="149.8" y1="593" x2="149.8" y2="620" stroke="#000" stroke-width="1.1"/>
<line x1="140" y1="620" x2="149.8" y2="620" stroke="#000" stroke-width="0.8"/>
<line x1="144.9" y1="593" x2="144.9" y2="620" stroke="#000" stroke-width="0.8" stroke-dasharray="9 2.5 2 2.5"/>
<line x1="111.9" y1="620" x2="110.7" y2="643" stroke="#000" stroke-width="1"/>
<line x1="122.3" y1="620" x2="123.5" y2="643" stroke="#000" stroke-width="1"/>
<line x1="114.6" y1="620" x2="119.6" y2="643" stroke="#000" stroke-width="1"/>
<line x1="119.6" y1="620" x2="114.6" y2="643" stroke="#000" stroke-width="1"/>
<line x1="117.1" y1="620" x2="117.1" y2="643" stroke="#000" stroke-width="0.8"/>
<path d="M107.9,646 Q117.1,641 126.3,647" fill="none" stroke="#000" stroke-width="1"/>
<path d="M107.9,649 Q117.1,644 126.3,650" fill="none" stroke="#000" stroke-width="1"/>
<line x1="109.4" y1="649" x2="109.4" y2="673.5" stroke="#000" stroke-width="1"/>
<line x1="113.25" y1="649" x2="113.25" y2="673.5" stroke="#000" stroke-width="1"/>
<line x1="117.1" y1="649" x2="117.1" y2="673.5" stroke="#000" stroke-width="1"/>
<line x1="120.95" y1="649" x2="120.95" y2="673.5" stroke="#000" stroke-width="1"/>
<line x1="124.8" y1="649" x2="124.8" y2="673.5" stroke="#000" stroke-width="1"/>
<rect x="109.7" y="673.5" width="3.25" height="6" fill="#555" stroke="#000" stroke-width="0.7"/>
<rect x="113.55" y="673.5" width="3.25" height="6" fill="#555" stroke="#000" stroke-width="0.7"/>
<rect x="117.4" y="673.5" width="3.25" height="6" fill="#555" stroke="#000" stroke-width="0.7"/>
<rect x="121.25" y="673.5" width="3.25" height="6" fill="#555" stroke="#000" stroke-width="0.7"/>
<line x1="117.1" y1="649" x2="117.1" y2="683" stroke="#000" stroke-width="0.8"/>
<line x1="140" y1="620" x2="138.8" y2="643" stroke="#000" stroke-width="1"/>
<line x1="150.5" y1="620" x2="151.7" y2="643" stroke="#000" stroke-width="1"/>
<line x1="142.75" y1="620" x2="147.75" y2="643" stroke="#000" stroke-width="1"/>
<line x1="147.75" y1="620" x2="142.75" y2="643" stroke="#000" stroke-width="1"/>
<line x1="145.25" y1="620" x2="145.25" y2="643" stroke="#000" stroke-width="0.8"/>
<path d="M136,646 Q145.25,641 154.5,647" fill="none" stroke="#000" stroke-width="1"/>
<path d="M136,649 Q145.25,644 154.5,650" fill="none" stroke="#000" stroke-width="1"/>
<line x1="137.5" y1="649" x2="137.5" y2="673.5" stroke="#000" stroke-width="1"/>
<line x1="142.67" y1="649" x2="142.67" y2="673.5" stroke="#000" stroke-width="1"/>
<line x1="147.83" y1="649" x2="147.83" y2="673.5" stroke="#000" stroke-width="1"/>
<line x1="153" y1="649" x2="153" y2="673.5" stroke="#000" stroke-width="1"/>
<rect x="137.8" y="673.5" width="4.57" height="6" fill="#555" stroke="#000" stroke-width="0.7"/>
<rect x="142.97" y="673.5" width="4.57" height="6" fill="#555" stroke="#000" stroke-width="0.7"/>
<rect x="148.13" y="673.5" width="4.57" height="6" fill="#555" stroke="#000" stroke-width="0.7"/>
<line x1="145.25" y1="649" x2="145.25" y2="683" stroke="#000" stroke-width="0.8"/>
<line x1="27.5" y1="464.6" x2="160" y2="464.6" stroke="#000" stroke-width="1"/>
<line x1="27.5" y1="464.6" x2="27.5" y2="679.8" stroke="#000" stroke-width="1"/>
<polygon points="27.5,464.6 29.7,475.6 25.3,475.6" fill="#000"/>
<polygon points="27.5,679.8 25.3,668.8 29.7,668.8" fill="#000"/>
<line x1="27.5" y1="679.8" x2="110" y2="679.8" stroke="#000" stroke-width="1"/>
<text x="26.5" y="595.2" font-size="21.5" text-anchor="start" transform="rotate(-90 26.5 595.2)" textLength="69" lengthAdjust="spacingAndGlyphs">500±50</text>
<line x1="69" y1="619.7" x2="112" y2="619.7" stroke="#000" stroke-width="1"/>
<line x1="69" y1="619.7" x2="69" y2="679.8" stroke="#000" stroke-width="1"/>
<polygon points="69,619.7 71.2,630.7 66.8,630.7" fill="#000"/>
<polygon points="69,679.8 66.8,668.8 71.2,668.8" fill="#000"/>
<text x="67.6" y="661" font-size="21.5" text-anchor="start" transform="rotate(-90 67.6 661)" textLength="22" lengthAdjust="spacingAndGlyphs">80</text>
<text x="36.4" y="192.9" font-size="19" text-anchor="start" textLength="71" lengthAdjust="spacingAndGlyphs">Air Flow</text>
<text x="55.8" y="279.8" font-size="19" text-anchor="start" textLength="28.6" lengthAdjust="spacingAndGlyphs">OR</text>
<polygon points="30.2,238.5 47.6,230.3 47.6,235.8 84.4,235.8 110,227.3 98.7,238.5 110,248.3 84.4,241.2 47.6,241.2 47.6,247.3" fill="#fff" stroke="#000" stroke-width="1.1"/>
<line x1="84.4" y1="236.8" x2="98" y2="236.8" stroke="#000" stroke-width="0.7"/>
<line x1="84.4" y1="240.2" x2="98" y2="240.2" stroke="#000" stroke-width="0.7"/>
<polygon points="109.6,304.5 92.6,296.4 92.6,301.9 55.8,301.9 30.2,293.1 41.5,304 30.2,314.8 55.8,307 92.6,307 92.6,312.7" fill="#fff" stroke="#000" stroke-width="1.1"/>
<line x1="42" y1="302.9" x2="56" y2="302.9" stroke="#000" stroke-width="0.7"/>
<line x1="42" y1="306" x2="56" y2="306" stroke="#000" stroke-width="0.7"/>
</svg></body></html>
